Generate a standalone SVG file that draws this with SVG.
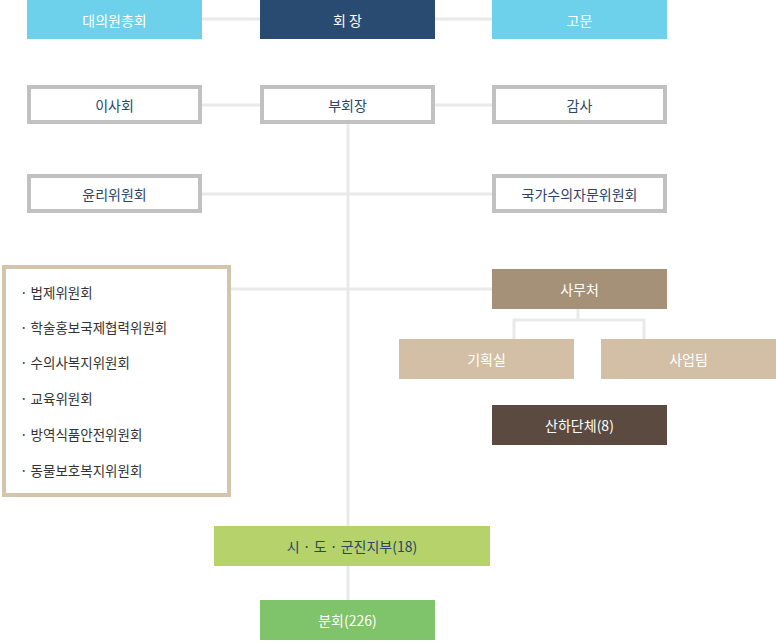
<svg xmlns="http://www.w3.org/2000/svg" width="776" height="641" viewBox="0 0 776 641">
<style>
text{font-family:"Noto Sans CJK KR","Noto Sans",sans-serif;font-size:14px;text-anchor:middle;dominant-baseline:central}
.w{fill:#fff}.d{fill:#2b4468}
.ln{stroke:#e9e9e9;stroke-width:3;fill:none}
.ob{fill:#fff;stroke:#c1c1c1;stroke-width:4}
.li{text-anchor:start;fill:#333;font-size:13.5px}
</style>
<rect width="776" height="641" fill="#fff"/>
<g id="connectors">
<path class="ln" d="M202 19H260M435 19H492M202 105H260M435 105H492M202 194H492M348 124V600M231 289H492M578 309V320M514 340V320H644V340"/>
</g>
<g id="n1"><rect x="27" y="0" width="175" height="39" fill="#6dd1ec"/><text class="w" x="114.5" y="20">대의원총회</text></g>
<g id="n2"><rect x="260" y="0" width="175" height="39" fill="#294b71"/><text class="w" x="347.5" y="20">회 장</text></g>
<g id="n3"><rect x="492" y="0" width="175" height="39" fill="#6dd1ec"/><text class="w" x="579.5" y="20">고문</text></g>
<g id="n4"><rect class="ob" x="29" y="87" width="171" height="35"/><text class="d" x="114.5" y="105">이사회</text></g>
<g id="n5"><rect class="ob" x="262" y="87" width="171" height="35"/><text class="d" x="347.5" y="105">부회장</text></g>
<g id="n6"><rect class="ob" x="494" y="87" width="171" height="35"/><text class="d" x="579.5" y="105">감사</text></g>
<g id="n7"><rect class="ob" x="29" y="176" width="171" height="35"/><text class="d" x="114.5" y="194">윤리위원회</text></g>
<g id="n8"><rect class="ob" x="494" y="176" width="171" height="35"/><text class="d" x="579.5" y="194">국가수의자문위원회</text></g>
<g id="n9"><rect x="4" y="267" width="225" height="228" fill="#fff" stroke="#d3c4aa" stroke-width="4"/>
<text class="li" x="20" y="292">· 법제위원회</text>
<text class="li" x="20" y="327">· 학술홍보국제협력위원회</text>
<text class="li" x="20" y="362">· 수의사복지위원회</text>
<text class="li" x="20" y="398">· 교육위원회</text>
<text class="li" x="20" y="434">· 방역식품안전위원회</text>
<text class="li" x="20" y="470">· 동물보호복지위원회</text></g>
<g id="n10"><rect x="492" y="269" width="175" height="40" fill="#a49178"/><text class="w" x="579.5" y="289">사무처</text></g>
<g id="n11"><rect x="399" y="339" width="175" height="40" fill="#d2bfa6"/><text class="w" x="486.5" y="359">기획실</text></g>
<g id="n12"><rect x="601" y="339" width="175" height="40" fill="#d2bfa6"/><text class="w" x="688.5" y="359">사업팀</text></g>
<g id="n13"><rect x="492" y="405" width="175" height="40" fill="#5b4a3f"/><text class="w" x="579.5" y="425">산하단체(8)</text></g>
<g id="n14"><rect x="214" y="526" width="276" height="40" fill="#b5d36a"/><text class="d" x="352" y="546">시 · 도 · 군진지부(18)</text></g>
<g id="n15"><rect x="260" y="600" width="175" height="40" fill="#7fc36a"/><text class="w" x="347.5" y="620">분회(226)</text></g>
</svg>
